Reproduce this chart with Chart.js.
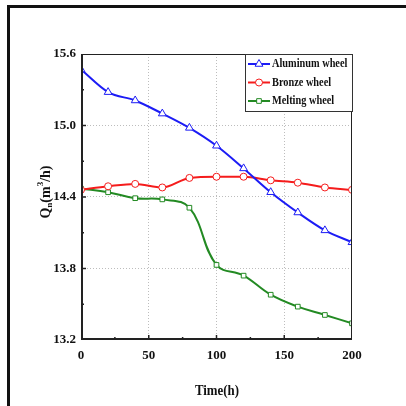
<!DOCTYPE html>
<html>
<head>
<meta charset="utf-8">
<script src="https://cdn.jsdelivr.net/npm/chart.js@4.4.1/dist/chart.umd.min.js"></script>
<style>
  html, body { margin: 0; padding: 0; background: #fff; }
  #wrap { width: 406px; height: 406px; position: relative; }
</style>
</head>
<body>
<div id="wrap"><canvas id="myChart" width="406" height="406"></canvas></div>
<script>
const hours = [0, 20, 40, 60, 80, 100, 120, 140, 160, 180, 200];
const aluminum = [15.47, 15.28, 15.21, 15.10, 14.98, 14.83, 14.64, 14.44, 14.27, 14.12, 14.02];
const bronze = [14.46, 14.49, 14.51, 14.48, 14.56, 14.57, 14.57, 14.54, 14.52, 14.48, 14.46];
const melting = [14.47, 14.44, 14.39, 14.38, 14.31, 13.83, 13.74, 13.58, 13.48, 13.41, 13.34];
const yMajorTicks = [13.2, 13.8, 14.4, 15.0, 15.6];
const xMajorTicks = [0, 50, 100, 150, 200];

const FONT = '"Liberation Serif", "DejaVu Serif", serif';

function pts(vals) {
    return hours.map((h, i) => ({ x: h, y: vals[i] }));
}

function isMajorY(v) {
    return yMajorTicks.some(t => Math.abs(t - v) < 1e-6);
}

// narrow text like the condensed serif of the original
function narrowText(ctx, txt, x, y, sx) {
    ctx.save();
    ctx.translate(x, y);
    ctx.scale(sx, 1);
    ctx.fillText(txt, 0, 0);
    ctx.restore();
}

// frame, inward ticks, axis titles, legend
const decor = {
    id: 'decor',
    afterDraw(chart) {
        const ctx = chart.ctx;
        const a = chart.chartArea;
        const xs = chart.scales.x, ys = chart.scales.y;
        ctx.save();

        // outer frame (left + top)
        ctx.fillStyle = '#111';
        ctx.fillRect(7, 5, 3, 401);
        ctx.fillRect(7, 5, 399, 3);

        // plot border
        ctx.strokeStyle = '#222';
        ctx.lineWidth = 1;
        ctx.beginPath();
        ctx.moveTo(a.left, a.top + 0.5);
        ctx.lineTo(a.right - 0.5, a.top + 0.5);
        ctx.lineTo(a.right - 0.5, a.bottom);
        ctx.stroke();
        ctx.lineWidth = 2;
        ctx.beginPath();
        ctx.moveTo(a.left + 1, a.top);
        ctx.lineTo(a.left + 1, a.bottom - 1);
        ctx.lineTo(a.right, a.bottom - 1);
        ctx.stroke();

        // inward ticks
        ctx.lineWidth = 1.5;
        for (let v = 25; v < 200; v += 25) {
            const px = xs.getPixelForValue(v);
            const len = v % 50 === 0 ? 5 : 3;
            ctx.beginPath();
            ctx.moveTo(px, a.bottom);
            ctx.lineTo(px, a.bottom - len);
            ctx.stroke();
        }
        for (let v = 13.5; v < 15.6; v += 0.3) {
            const py = ys.getPixelForValue(v);
            const len = isMajorY(v) ? 5 : 3;
            ctx.beginPath();
            ctx.moveTo(a.left, py);
            ctx.lineTo(a.left + len, py);
            ctx.stroke();
        }

        // axis titles
        ctx.fillStyle = '#111';
        ctx.font = 'bold 14px ' + FONT;
        ctx.textAlign = 'center';
        ctx.textBaseline = 'middle';
        narrowText(ctx, 'Time(h)', 217, 391, 0.92);

        ctx.translate(46, 192);
        ctx.rotate(-Math.PI / 2);
        ctx.textAlign = 'left';
        const parts = [
            ['Q', 14, 0], ['n', 9, 4], ['(m', 14, 0], ['3', 9, -5], ['/h)', 14, 0]
        ];
        let total = 0;
        parts.forEach(p => { ctx.font = 'bold ' + p[1] + 'px ' + FONT; total += ctx.measureText(p[0]).width; });
        let cx = -total / 2;
        parts.forEach(p => {
            ctx.font = 'bold ' + p[1] + 'px ' + FONT;
            ctx.fillText(p[0], cx, p[2]);
            cx += ctx.measureText(p[0]).width;
        });
        ctx.restore();

        // legend box
        ctx.save();
        const lx = 245, ly = 54, lw = 107, lh = 57;
        ctx.fillStyle = '#fff';
        ctx.fillRect(lx, ly, lw, lh);
        ctx.strokeStyle = '#333';
        ctx.lineWidth = 1;
        ctx.strokeRect(lx + 0.5, ly + 0.5, lw, lh);
        chart.data.datasets.forEach((ds, i) => {
            const ry = ly + 10 + i * 18.5;
            ctx.strokeStyle = ds.borderColor;
            ctx.lineWidth = 2;
            ctx.beginPath();
            ctx.moveTo(lx + 3, ry);
            ctx.lineTo(lx + 25, ry);
            ctx.stroke();
            ctx.lineWidth = 1;
            ctx.fillStyle = '#fff';
            Chart.helpers.drawPoint(ctx, {
                pointStyle: ds.pointStyle, radius: ds.pointRadius, rotation: 0, borderWidth: 1
            }, lx + 14, ry);
            ctx.fillStyle = '#111';
            ctx.font = 'bold 12px ' + FONT;
            ctx.textAlign = 'left';
            ctx.textBaseline = 'middle';
            narrowText(ctx, ds.label, lx + 27, ry, 0.86);
        });
        ctx.restore();
    }
};

const ctx = document.getElementById('myChart');
const common = {
    borderWidth: 2,
    pointBorderWidth: 1,
    pointBackgroundColor: '#fff',
    fill: false
};

const gridColor = c => {
    if (!c.tick) return 'rgba(0,0,0,0)';
    return c.index === 0 || c.index === 4 ? 'rgba(0,0,0,0)' : '#bdbdbd';
};

new Chart(ctx, {
    type: 'line',
    data: {
        datasets: [
            Object.assign({ label: 'Aluminum wheel', data: pts(aluminum), borderColor: '#1c1cf5', pointBorderColor: '#1c1cf5', pointStyle: 'triangle', pointRadius: 4.5, cubicInterpolationMode: 'monotone' }, common),
            Object.assign({ label: 'Bronze wheel', data: pts(bronze), borderColor: '#f51c1c', pointBorderColor: '#f51c1c', pointStyle: 'circle', pointRadius: 3.5, cubicInterpolationMode: 'monotone' }, common),
            Object.assign({ label: 'Melting wheel', data: pts(melting), borderColor: '#238a23', pointBorderColor: '#238a23', pointStyle: 'rect', pointRadius: 3.3, tension: 0.4 }, common)
        ]
    },
    options: {
        responsive: false,
        animation: false,
        layout: { padding: { left: 0, right: 54, top: 54, bottom: 0 } },
        plugins: { legend: { display: false }, tooltip: { enabled: false } },
        scales: {
            x: {
                type: 'linear',
                min: 0,
                max: 200,
                afterFit(scale) { scale.height = 66; },
                afterBuildTicks(scale) { scale.ticks = xMajorTicks.map(v => ({ value: v })); },
                border: { display: false, dash: [1, 2] },
                grid: { drawTicks: false, color: gridColor, lineWidth: 1 },
                ticks: {
                    padding: 8,
                    color: '#111',
                    font: { family: FONT, size: 13, weight: 'bold' }
                }
            },
            y: {
                min: 13.2,
                max: 15.6,
                afterFit(scale) { scale.width = 81; },
                afterBuildTicks(scale) { scale.ticks = yMajorTicks.map(v => ({ value: v })); },
                border: { display: false, dash: [1, 2] },
                grid: { drawTicks: false, color: gridColor, lineWidth: 1 },
                ticks: {
                    padding: 5,
                    color: '#111',
                    font: { family: FONT, size: 13, weight: 'bold' },
                    callback: v => v.toFixed(1)
                }
            }
        }
    },
    plugins: [decor]
});
</script>
</body>
</html>
